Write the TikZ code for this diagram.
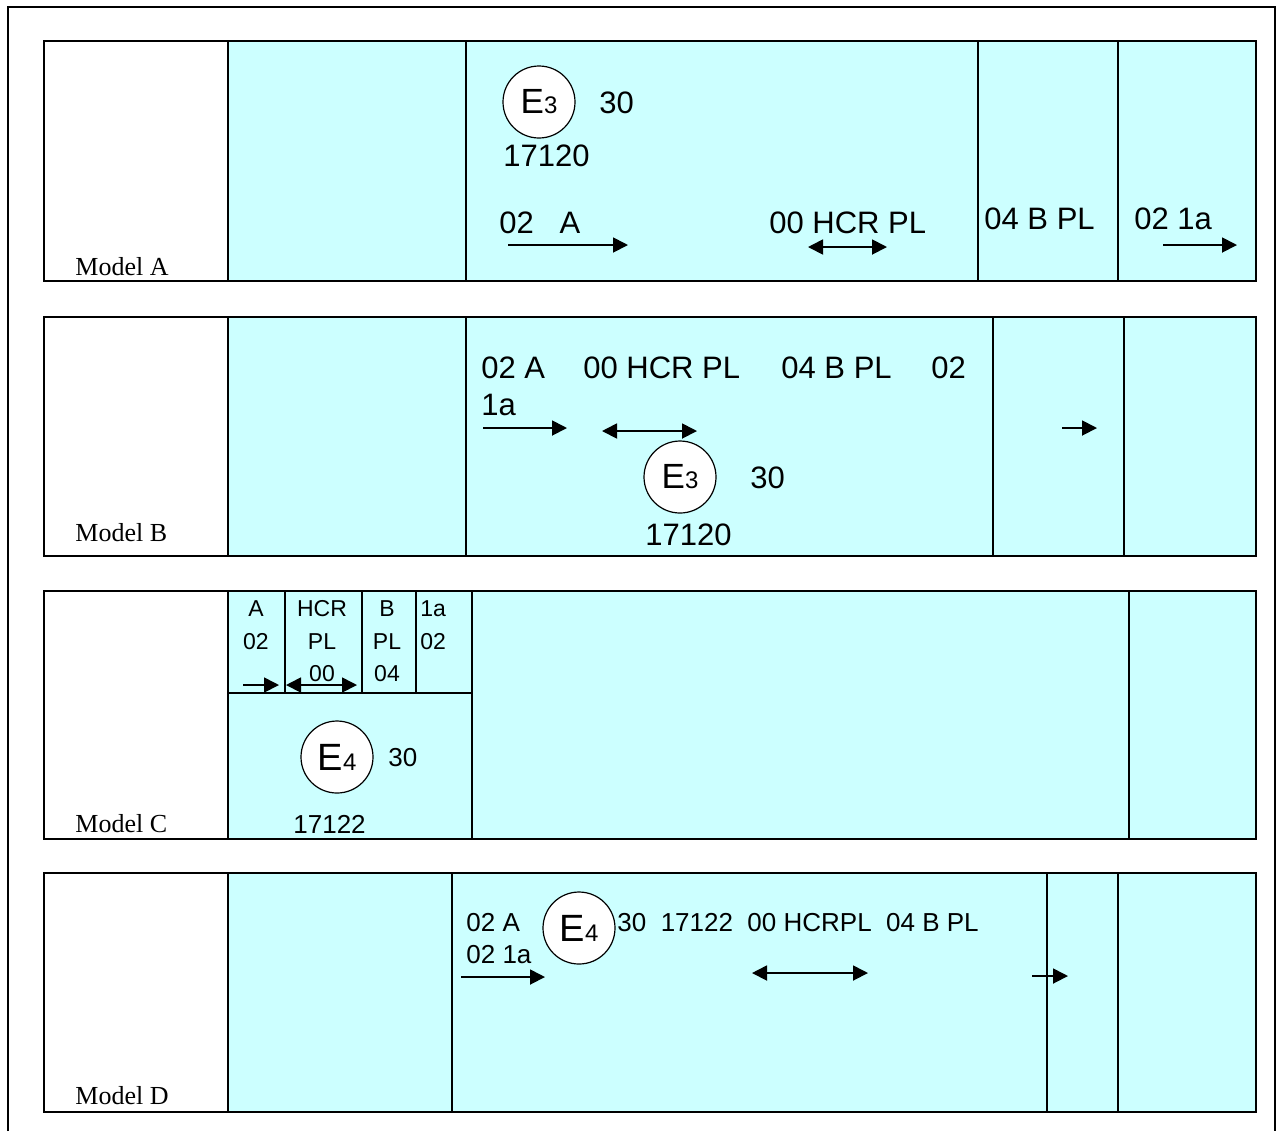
\documentclass[tikz,border=0pt]{standalone}
\usepackage{fontspec}
\setmainfont{Liberation Serif}
\setsansfont{Liberation Sans}
\usetikzlibrary{arrows.meta}

\definecolor{panelcyan}{HTML}{CCFFFF}

\tikzset{
  box/.style={draw=black,line width=1pt},
  model/.style={font=\rmfamily\fontsize{13}{15}\selectfont,anchor=west,inner sep=0pt},
  big/.style={font=\sffamily\fontsize{15.5}{18}\selectfont,anchor=west,inner sep=0pt},
  mid/.style={font=\sffamily\fontsize{13}{15}\selectfont,anchor=west,inner sep=0pt},
  tiny/.style={font=\sffamily\fontsize{11.5}{13}\selectfont,inner sep=0pt},
  stampring/.style={draw=black,line width=0.6pt,fill=white,circle,minimum size=36pt,inner sep=0pt},
  onearrow/.style={line width=0.9pt,-{Triangle[length=7.5pt,width=7.5pt]}},
  twoarrow/.style={line width=0.9pt,{Triangle[length=7.5pt,width=7.5pt]}-{Triangle[length=7.5pt,width=7.5pt]}}
}

% E mark with a small digit
\newcommand{\emark}[3]{{\fontsize{#1}{#1}\selectfont E}{\fontsize{#2}{#2}\selectfont #3}}

\begin{document}
\begin{tikzpicture}[x=0.5pt,y=-0.5pt,font=\sffamily]
	\useasboundingbox (0,0) rectangle (1283,1131);

	%outer frame
	\draw[line width=1pt] (8,1131) -- (8,7) -- (1275,7) -- (1275,1131);

	%Model A
	\fill[panelcyan] (228,41) rectangle (1256,281);
	\draw[box] (44,41) rectangle (1256,281);
	\draw[box] (228,41) -- (228,281) (466,41) -- (466,281) (978,41) -- (978,281) (1118,41) -- (1118,281);
	\node[model] (amodel) at (75,267) {Model A};
	\node[stampring] (astamp) at (539,102) {\emark{17.5}{12}{3}};
	\node[big] (athirty) at (599,103) {30};
	\node[big] (anum) at (503,156) {17120};
	\node[big] (atwoa) at (499,223) {02~~~A};
	\node[big] (ahcr) at (769,223) {00 HCR PL};
	\node[big] (abpl) at (984,219) {04 B PL};
	\node[big] (aonea) at (1134,219) {02 1a};
	\coordinate (aarr1s) at (508,245); \coordinate (aarr1e) at (628,245);
	\coordinate (aarr2s) at (808,247); \coordinate (aarr2e) at (887,247);
	\coordinate (aarr3s) at (1163,245); \coordinate (aarr3e) at (1237,245);
	\draw[onearrow] (aarr1s) -- (aarr1e);
	\draw[twoarrow] (aarr2s) -- (aarr2e);
	\draw[onearrow] (aarr3s) -- (aarr3e);

	%Model B
	\fill[panelcyan] (228,317) rectangle (1256,556);
	\draw[box] (44,317) rectangle (1256,556);
	\draw[box] (228,317) -- (228,556) (466,317) -- (466,556) (993,317) -- (993,556) (1124,317) -- (1124,556);
	\node[model] (bmodel) at (75,533) {Model B};
	\node[big] (btwoa) at (481,368) {02 A};
	\node[big] (bhcr) at (583,368) {00 HCR PL};
	\node[big] (bbpl) at (781,368) {04 B PL};
	\node[big] (btwo) at (931,368) {02};
	\node[big] (bonea) at (481,405) {1a};
	\node[stampring] (bstamp) at (680,477) {\emark{17.5}{12}{3}};
	\node[big] (bthirty) at (750,478) {30};
	\node[big] (bnum) at (645,535) {17120};
	\coordinate (barr1s) at (483,428); \coordinate (barr1e) at (567,428);
	\coordinate (barr2s) at (602,431); \coordinate (barr2e) at (697,431);
	\coordinate (barr3s) at (1062,428); \coordinate (barr3e) at (1097,428);
	\draw[onearrow] (barr1s) -- (barr1e);
	\draw[twoarrow] (barr2s) -- (barr2e);
	\draw[onearrow] (barr3s) -- (barr3e);

	%Model C
	\fill[panelcyan] (228,591) rectangle (1256,839);
	\draw[box] (44,591) rectangle (1256,839);
	\draw[box] (228,591) -- (228,839) (472,591) -- (472,839) (1129,591) -- (1129,839);
	\draw[box] (228,693) -- (472,693);
	\draw[box] (285,591) -- (285,693) (362,591) -- (362,693) (416,591) -- (416,693);
	\node[model] (cmodel) at (75,824) {Model C};
	\node[tiny] (cA) at (256,609) {A};
	\node[tiny] (cAnum) at (256,642) {02};
	\node[tiny] (cHCR) at (322,609) {HCR};
	\node[tiny] (cHCRpl) at (322,642) {PL};
	\node[tiny] (cHCRnum) at (322,674) {00};
	\node[tiny] (cB) at (387,609) {B};
	\node[tiny] (cBpl) at (387,642) {PL};
	\node[tiny] (cBnum) at (387,674) {04};
	\node[tiny,anchor=west] (cone) at (420,609) {1a};
	\node[tiny,anchor=west] (conenum) at (420,642) {02};
	\coordinate (carr1s) at (243,685); \coordinate (carr1e) at (279,685);
	\coordinate (carr2s) at (286,685); \coordinate (carr2e) at (357,685);
	\draw[onearrow] (carr1s) -- (carr1e);
	\draw[twoarrow] (carr2s) -- (carr2e);
	\node[stampring] (cstamp) at (337,757) {\emark{19}{12}{4}};
	\node[mid] (cthirty) at (388,758) {30};
	\node[mid] (cnum) at (293,824) {17122};

	%Model D
	\fill[panelcyan] (228,873) rectangle (1256,1112);
	\draw[box] (44,873) rectangle (1256,1112);
	\draw[box] (228,873) -- (228,1112) (452,873) -- (452,1112) (1047,873) -- (1047,1112) (1118,873) -- (1118,1112);
	\node[model] (dmodel) at (75,1096) {Model D};
	\node[mid] (dtwoa) at (466,923) {02 A};
	\node[mid] (donea) at (466,955) {02 1a};
	\node[stampring] (dstamp) at (579,928) {\emark{19}{12}{4}};
	\node[mid] (dline) at (617,923) {30~~17122~~00 HCRPL~~04 B PL};
	\coordinate (darr1s) at (461,977); \coordinate (darr1e) at (545,977);
	\coordinate (darr2s) at (752,973); \coordinate (darr2e) at (868,973);
	\coordinate (darr3s) at (1032,976); \coordinate (darr3e) at (1068,976);
	\draw[onearrow] (darr1s) -- (darr1e);
	\draw[twoarrow] (darr2s) -- (darr2e);
	\draw[onearrow] (darr3s) -- (darr3e);
\end{tikzpicture}
\end{document}
